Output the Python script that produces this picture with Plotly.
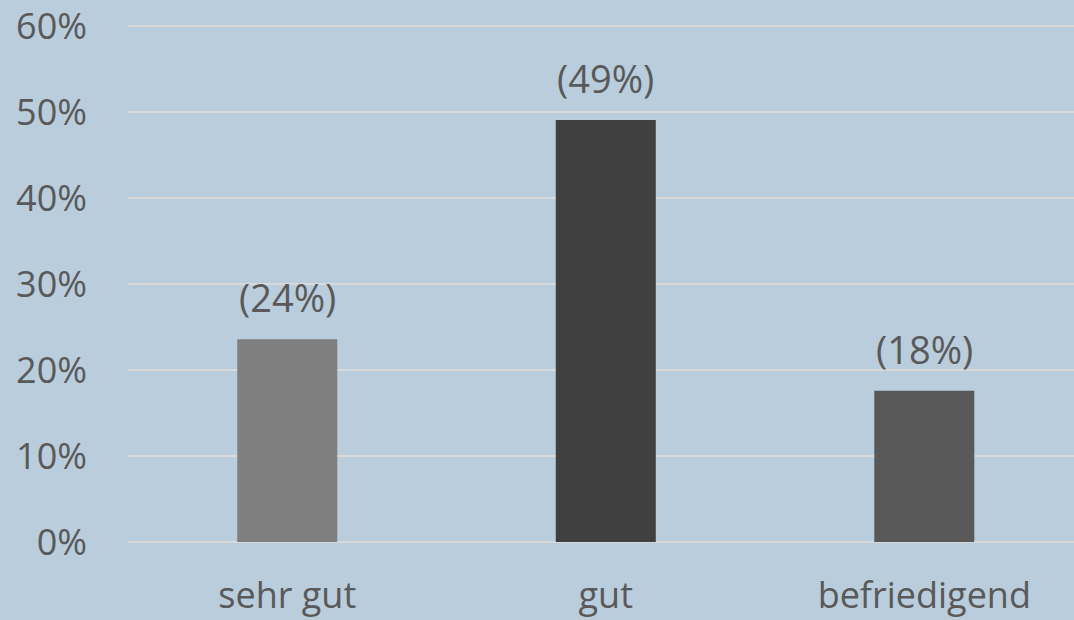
import plotly.graph_objects as go

categories = ["sehr gut", "gut", "befriedigend"]
values = [0.236, 0.491, 0.176]
bar_colors = ["#7F7F7F", "#404040", "#595959"]
y_ticks = [0, 0.1, 0.2, 0.3, 0.4, 0.5, 0.6]

BG = "#B9CDDC"
GRID = "#D9D9D9"
TXT = "#595959"
FONT = "Open Sans"

fig = go.Figure(go.Bar(
    x=categories,
    y=values,
    marker=dict(color=bar_colors, line=dict(width=0)),
    width=0.314,
    hoverinfo="x+y",
))

for c, v in zip(categories, values):
    fig.add_annotation(
        x=c, y=v, text=f"({v:.0%})", showarrow=False,
        yanchor="bottom", yshift=14,
        font=dict(family=FONT, size=38, color=TXT),
    )

fig.update_layout(
    width=1074, height=620,
    margin=dict(l=128, r=0, t=22, b=78),
    paper_bgcolor=BG, plot_bgcolor=BG,
    showlegend=False,
    font=dict(family=FONT, size=36, color=TXT),
    xaxis=dict(
        range=[-0.5, 2.47],
        showgrid=False, showline=False, zeroline=False,
        ticks="", ticklabelstandoff=29,
        tickfont=dict(family=FONT, size=36, color=TXT),
    ),
    yaxis=dict(
        range=[0, 0.605],
        tickvals=y_ticks, tickformat=".0%",
        showgrid=True, gridcolor=GRID, gridwidth=2,
        zeroline=True, zerolinecolor=GRID, zerolinewidth=2,
        showline=False, ticks="", ticklabelstandoff=40,
        tickfont=dict(family=FONT, size=36, color=TXT),
    ),
)

fig.write_html(
    "out.html",
    config={"displayModeBar": False},
    post_script="document.body.style.margin='0';document.body.style.background='" + BG + "';",
)
